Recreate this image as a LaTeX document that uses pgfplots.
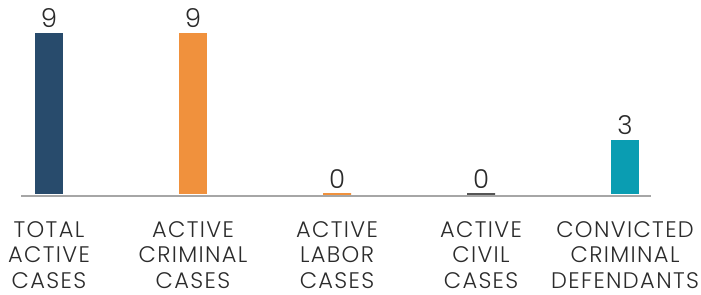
\documentclass[border=0pt]{standalone}
\usepackage{pgfplots}
\pgfplotsset{compat=1.18}
\usepackage{fontspec}
\setmainfont{Poppins}[UprightFont=* Light]
\newfontfamily\lblfont{Poppins}[UprightFont=* Light, LetterSpace=6]
\definecolor{navy}{HTML}{284B6C}
\definecolor{orng}{HTML}{F0913D}
\definecolor{teal}{HTML}{0A9DB2}
\definecolor{civ}{HTML}{555555}
\definecolor{base}{HTML}{A6A6A6}
\definecolor{txt}{HTML}{2B2B2B}
\begin{document}
\begin{tikzpicture}
\begin{axis}[
  name=ax,
  scale only axis,
  width=630bp, height=163bp,
  xmin=-0.194, xmax=4.18,
  ymin=-0.12, ymax=9,
  axis x line=bottom,
  axis y line=none,
  axis line style={base, line width=2bp, -},
  x axis line style={-},
  xtick={0,1,2,3,4},
  xticklabels={{TOTAL\\ACTIVE\\CASES},{ACTIVE\\CRIMINAL\\CASES},{ACTIVE\\LABOR\\CASES},{ACTIVE\\CIVIL\\CASES},{CONVICTED\\CRIMINAL\\DEFENDANTS}},
  xticklabel style={align=center, font=\lblfont\fontsize{22.5bp}{25.5bp}\selectfont, text=txt, inner sep=0pt, yshift=-25bp},
  major tick length=0pt,
  ybar, bar width=28bp, bar shift=0pt,
  clip=false,
  /pgf/number format/assume math mode=true,
  nodes near coords,
  every node near coord/.append style={font=\fontsize{26bp}{28bp}\selectfont, text=txt, inner sep=0pt, anchor=south, yshift=5bp},
]
\addplot[fill=navy, draw=none] coordinates {(0,9)};
\addplot[fill=orng, draw=none] coordinates {(1,9)};
\addplot[fill=orng, draw=orng, line width=1.5bp] coordinates {(2,0)};
\addplot[fill=civ, draw=civ, line width=1.5bp] coordinates {(3,0)};
\addplot[fill=teal, draw=none] coordinates {(4,3)};
\end{axis}
\pgfresetboundingbox
\path ([shift={(-21bp,-99bp)}]ax.south west) rectangle ([shift={(680bp,196bp)}]ax.south west);
\end{tikzpicture}
\end{document}
